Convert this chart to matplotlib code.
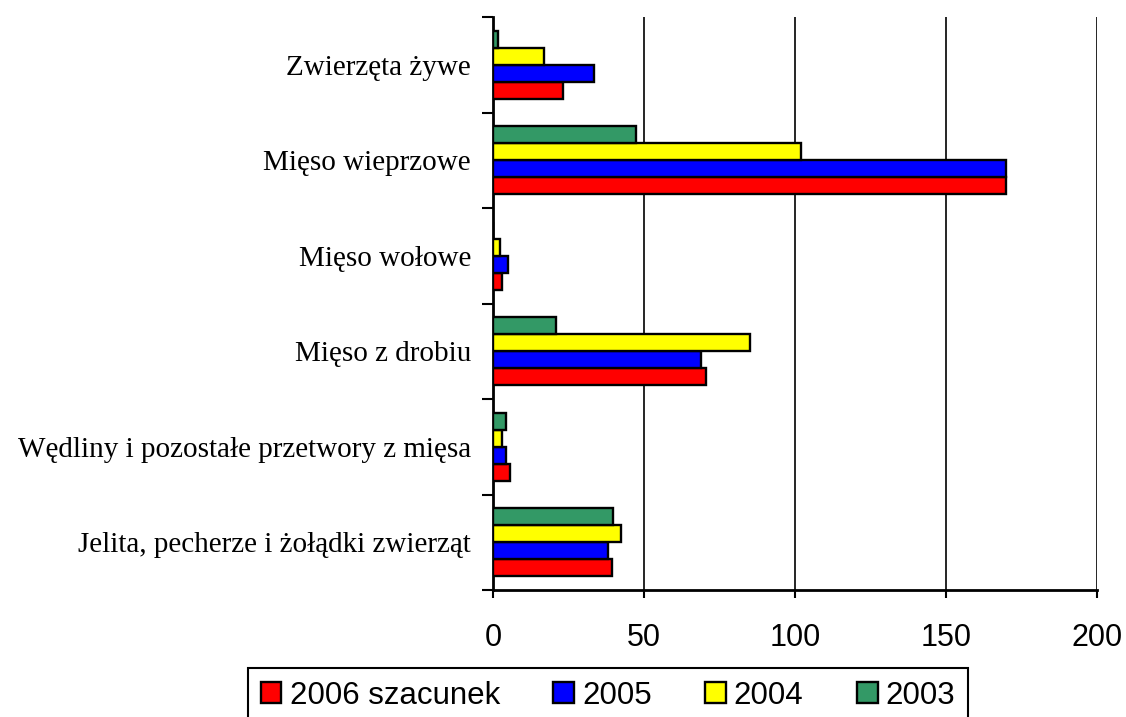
import numpy as np
import matplotlib
matplotlib.use("Agg")
import matplotlib.pyplot as plt
from matplotlib.ticker import FixedLocator

# kategorie od góry do dołu
categories = ["Zwierzęta żywe", "Mięso wieprzowe", "Mięso wołowe", "Mięso z drobiu",
              "Wędliny i pozostałe przetwory z mięsa", "Jelita, pecherze i żołądki zwierząt"]
series = ["2006 szacunek", "2005", "2004", "2003"]
v2006 = [23.3, 170, 2.9, 70.5, 5.5, 39.3]
v2005 = [33.5, 170, 5.0, 69, 4.2, 38]
v2004 = [16.7, 102, 2.2, 85, 2.8, 42.5]
v2003 = [1.7, 47.2, 0, 20.8, 4.2, 39.8]
colors = ["#ff0000", "#0000ff", "#ffff00", "#339966"]
xticks = [0, 50, 100, 150, 200]

fig = plt.figure(figsize=(11.26, 7.17), dpi=100)
ax = fig.add_axes([0.438, 0.177, 0.536, 0.799])

n = len(categories)
pos = np.arange(n)[::-1]  # pierwsza kategoria na górze
h = 0.178
values = [v2006, v2005, v2004, v2003]
for k, (vals, c, lab) in enumerate(zip(values, colors, series)):
    off = (-1.5 + k) * h
    ax.barh(pos + off, vals, height=h, color=c, edgecolor="black", linewidth=1.7, label=lab, zorder=3)

ax.set_xlim(0, 200)
ax.set_ylim(-0.5, n - 0.5)
ax.set_xticks(xticks)
ax.set_xticklabels([str(t) for t in xticks], family="Liberation Sans", fontsize=22)
ax.xaxis.grid(True, color="black", linewidth=1.2, zorder=0)
ax.tick_params(axis="x", length=6, width=1.5, direction="out", pad=18)

ax.set_yticks(pos)
ax.set_yticklabels(categories, family="Liberation Serif", fontsize=21)
ax.tick_params(axis="y", which="major", length=0, pad=16)
ax.yaxis.set_minor_locator(FixedLocator(np.arange(n + 1) - 0.5))
ax.tick_params(axis="y", which="minor", length=8, width=1.5, direction="out")

for s in ["top", "right"]:
    ax.spines[s].set_visible(False)
ax.spines["left"].set_linewidth(2)
ax.spines["bottom"].set_linewidth(2)

leg = ax.legend(loc="upper left", bbox_to_anchor=(248 / 1126, 49 / 717), bbox_transform=fig.transFigure,
                borderaxespad=0, ncol=4, frameon=True, fancybox=False, edgecolor="black", framealpha=1,
                prop={"family": "Liberation Sans", "size": 22.5},
                handlelength=0.67, handleheight=0.64, handletextpad=0.26, columnspacing=1.7,
                borderpad=0.4)
leg.get_frame().set_linewidth(1.5)

fig.savefig("out.png", dpi=100)
